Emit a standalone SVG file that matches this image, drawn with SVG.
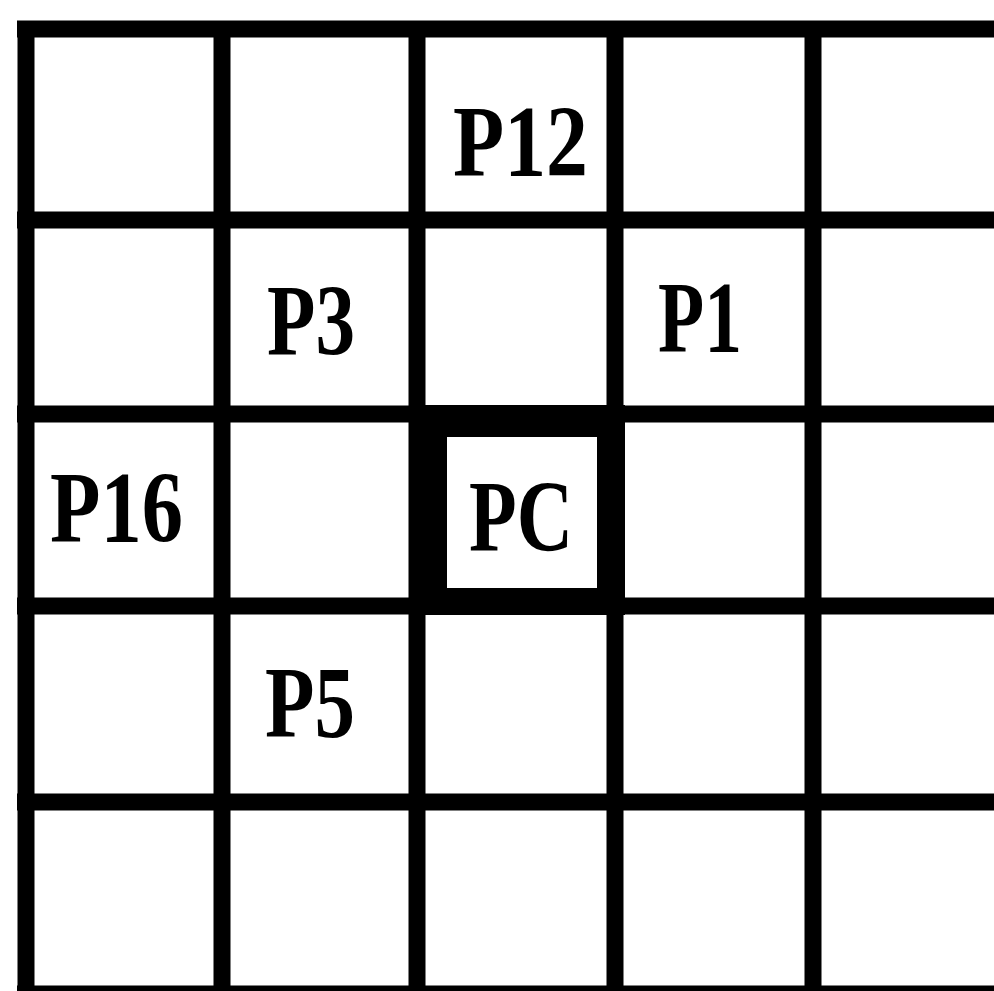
<svg xmlns="http://www.w3.org/2000/svg" width="994" height="991" viewBox="0 0 994 991">
<style>
.g{stroke:#000;stroke-width:17;fill:none}
.t{font-family:"Liberation Serif","Times New Roman",serif;font-weight:bold;font-size:102px;fill:#000}
</style>
<rect width="994" height="991" fill="#fff"/>
<g id="grid" class="g">
<line x1="26" y1="21" x2="26" y2="991"/>
<line x1="222" y1="21" x2="222" y2="991"/>
<line x1="417" y1="21" x2="417" y2="991"/>
<line x1="615" y1="21" x2="615" y2="991"/>
<line x1="813" y1="21" x2="813" y2="991"/>
<line x1="17" y1="29" x2="994" y2="29"/>
<line x1="17" y1="220" x2="994" y2="220"/>
<line x1="17" y1="414" x2="994" y2="414"/>
<line x1="17" y1="606" x2="994" y2="606"/>
<line x1="17" y1="802" x2="994" y2="802"/>
<line x1="17" y1="994" x2="994" y2="994"/>
</g>
<g id="pc-frame">
<path d="M412 405H625V615H412Z M447 437V588H597V437Z" fill="#000" fill-rule="evenodd"/>
</g>
<g id="P12"><text class="t" x="453" y="176" textLength="135" lengthAdjust="spacingAndGlyphs">P12</text></g>
<g id="P3"><text class="t" x="267" y="355" textLength="88" lengthAdjust="spacingAndGlyphs">P3</text></g>
<g id="P1"><text class="t" x="658" y="352" textLength="84" lengthAdjust="spacingAndGlyphs">P1</text></g>
<g id="P16"><text class="t" x="50" y="542" textLength="133" lengthAdjust="spacingAndGlyphs">P16</text></g>
<g id="PC"><text class="t" x="469" y="551" textLength="104" lengthAdjust="spacingAndGlyphs">PC</text></g>
<g id="P5"><text class="t" x="265" y="737" textLength="90" lengthAdjust="spacingAndGlyphs">P5</text></g>
</svg>
